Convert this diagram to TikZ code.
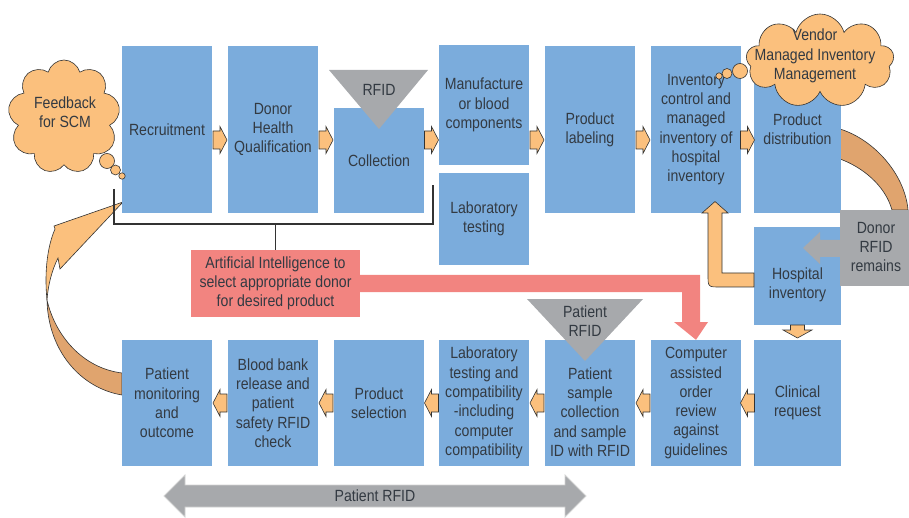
\documentclass[tikz,border=0pt]{standalone}
\usepackage{fontspec}
\setmainfont{Liberation Sans}[FakeStretch=0.87]
\usetikzlibrary{shapes.symbols,calc}
\definecolor{boxblue}{RGB}{123,172,220}
\definecolor{lorange}{RGB}{251,192,125}
\definecolor{brownor}{RGB}{224,164,110}
\definecolor{rfidgray}{RGB}{167,169,172}
\definecolor{aipink}{RGB}{242,132,128}
\definecolor{txt}{HTML}{333A42}
\definecolor{edge}{HTML}{333333}
\tikzset{
  rarr/.pic={\draw[sarrow] (-7,-9) -- (0,-9) -- (0,-13.5) -- (7,0) -- (0,13.5) -- (0,9) -- (-7,9) -- cycle;}
}
\begin{document}
\begin{tikzpicture}[x=1pt,y=-1pt,
  every node/.style={font=\fontsize{16.2}{19.3}\selectfont, text=txt, align=center, inner sep=0pt},
  stepbox/.style={fill=boxblue, minimum width=90pt},
  sarrow/.style={fill=lorange, draw=edge, line width=0.6pt},
  band/.style={fill=brownor, draw=edge, line width=0.6pt},
  cloudshape/.style={cloud, cloud ignores aspect, fill=lorange, draw=edge, line width=0.6pt},
  bubble/.style={fill=lorange, draw=edge, line width=0.6pt}]
\useasboundingbox (0,0) rectangle (909,518);

% curved bands (behind boxes)
\draw[band] (840,129) .. controls (875,140) and (905,175) .. (908,210) -- (892,210)
  .. controls (885,185) and (862,167) .. (840,159) -- cycle;
\draw[band] (122,395) .. controls (80,388) and (48,350) .. (47,300)
  .. controls (55,335) and (82,368) .. (122,373) -- cycle;
\draw[sarrow] (47,300) .. controls (44,270) and (48,245) .. (55,229) -- (54,226) -- (123,202)
  -- (60,269) -- (58,258) .. controls (52,270) and (48,285) .. (47,300) -- cycle;

% top row
\node[stepbox, minimum height=167pt] (rec) at (167,129.5) {Recruitment};
\node[stepbox, minimum height=167pt] (don) at (273,129.5) {Donor\\Health\\Qualification};
\node[stepbox, minimum height=105pt] (col) at (379,160.5) {Collection};
\node[stepbox, minimum height=120pt] (man) at (484,105) {Manufacture\\or blood\\components};
\node[stepbox, minimum height=92pt] (lab) at (484,219) {Laboratory\\testing};
\node[stepbox, minimum height=167pt] (lbl) at (590,129.5) {Product\\labeling};
\node[stepbox, minimum height=167pt] (inv) at (696,129.5) {Inventory\\control and\\managed\\inventory of\\hospital\\inventory};
\node[stepbox, minimum width=87pt, minimum height=167pt] (dist) at (797.5,129.5) {Product\\distribution};

% right column
\node[stepbox, minimum width=87pt, minimum height=98pt] (hosp) at (797.5,276) {};
\node (hospt) at (797.5,285) {Hospital\\inventory};
\node[fill=rfidgray, minimum width=69pt, minimum height=76pt] (donor) at (874.5,248) {};
\node (donort) at (876,247) {Donor\\RFID\\remains};

% bottom row
\node[stepbox, minimum height=126pt] (mon) at (167,403) {Patient\\monitoring\\and\\outcome};
\node[stepbox, minimum height=126pt] (bb) at (273,403) {Blood bank\\release and\\patient\\safety RFID\\check};
\node[stepbox, minimum height=126pt] (sel) at (379,403) {Product\\selection};
\node[stepbox, minimum height=126pt] (ltc) at (484,403) {Laboratory\\testing and\\compatibility\\-including\\computer\\compatibility};
\node[stepbox, minimum height=126pt] (psc) at (590,403) {};
\node[stepbox, minimum height=126pt] (cao) at (696,403) {Computer\\assisted\\order\\review\\against\\guidelines};
\node[stepbox, minimum width=87pt, minimum height=126pt] (clin) at (797.5,403) {Clinical\\request};

% triangles
\fill[rfidgray] (329,70) -- (428,70) -- (379,129) -- cycle;
\node (rfid) at (379,90) {RFID};
\fill[rfidgray] (527,299) -- (643,299) -- (585,361) -- cycle;
\node (prfid) at (585,321) {Patient\\RFID};
\node (psct) at (590,412) {Patient\\sample\\collection\\and sample\\ID with RFID};

% AI box and pink arrow
\node[fill=aipink, minimum width=169pt, minimum height=67pt] (ai) at (275.5,283.5) {Artificial Intelligence to\\select appropriate donor\\for desired product};
\fill[aipink] (ai.east) ++(0,-8.5) -- (700,275) -- (700,322) -- (708,322) -- (cao.north) -- (674,322)
  -- (682,322) -- (682,292) -- ($(ai.east)+(0,8.5)$) -- cycle;

% bracket
\coordinate (bl) at (114,189);
\coordinate (br) at (433,185);
\draw[edge, line width=1.1pt] (bl) -- (bl |- 0,224) -- (br |- 0,224) -- (br);
\draw[edge, line width=1.1pt] (ai.north |- 0,224) -- (ai.north);

% clouds
\node[cloudshape, cloud puffs=9, minimum width=112pt, minimum height=114pt] (fb) at (64,117) {};
\node (fbt) at (65,112) {Feedback\\for SCM};
\draw[bubble] (107,161) circle (7.5);
\draw[bubble] (115.5,170) circle (5);
\draw[bubble] (122,176) circle (3.2);
\node[cloudshape, cloud puffs=9, minimum width=148pt, minimum height=94pt] (vmi) at (820,61) {};
\node (vmit) at (815,56) {Vendor\\Managed Inventory\\Management};
\draw[bubble] (740,71) circle (7.5);
\draw[bubble] (727,73.5) circle (5);
\draw[bubble] (719,76) circle (3.2);

% small step arrows, top row
\pic at ($(rec.east)!.5!(don.west)+(0,10.5)$) {rarr};
\pic at ($(don.east)!.5!(col.west |- don.east)+(0,10.5)$) {rarr};
\pic at ($(col.east |- don.east)!.5!(man.west |- don.east)+(0,10.5)$) {rarr};
\pic at ($(man.east |- lbl.west)!.5!(lbl.west)+(0,10.5)$) {rarr};
\pic at ($(lbl.east)!.5!(inv.west)+(0,10.5)$) {rarr};
\pic at ($(inv.east)!.5!(dist.west)+(0,10.5)$) {rarr};
% bottom row
\pic[rotate=180] at ($(clin.west)!.5!(cao.east)$) {rarr};
\pic[rotate=180] at ($(cao.west)!.5!(psc.east)$) {rarr};
\pic[rotate=180] at ($(psc.west)!.5!(ltc.east)$) {rarr};
\pic[rotate=180] at ($(ltc.west)!.5!(sel.east)$) {rarr};
\pic[rotate=180] at ($(sel.west)!.5!(bb.east)$) {rarr};
\pic[rotate=180] at ($(bb.west)!.5!(mon.east)$) {rarr};
% hospital -> clinical request
\draw[sarrow] (790.5,325) -- (790.5,330) -- (783,330) -- (797.5,338) -- (812,330) -- (804.5,330) -- (804.5,325) -- cycle;
% hospital -> inventory control (L arrow)
\draw[sarrow] (754,287) -- (720,287) .. controls (708,287) .. (708,275) -- (708,213) -- (702,213)
  -- (715,201.5) -- (728,213) -- (722,213) -- (722,273) -- (754,273) -- cycle;
% donor RFID arrow
\fill[rfidgray] (840,240) -- (820,240) -- (820,232) -- (803,248) -- (820,264) -- (820,257) -- (840,257) -- cycle;

% patient RFID double arrow
\draw[fill=rfidgray, draw=gray!35, line width=0.8pt] (164,496) -- (185,475) -- (185,485) -- (565,485) -- (565,475)
  -- (586,496) -- (565,517) -- (565,507) -- (185,507) -- (185,517) -- cycle;
\node (prf) at (375,496) {Patient RFID};
\end{tikzpicture}
\end{document}
